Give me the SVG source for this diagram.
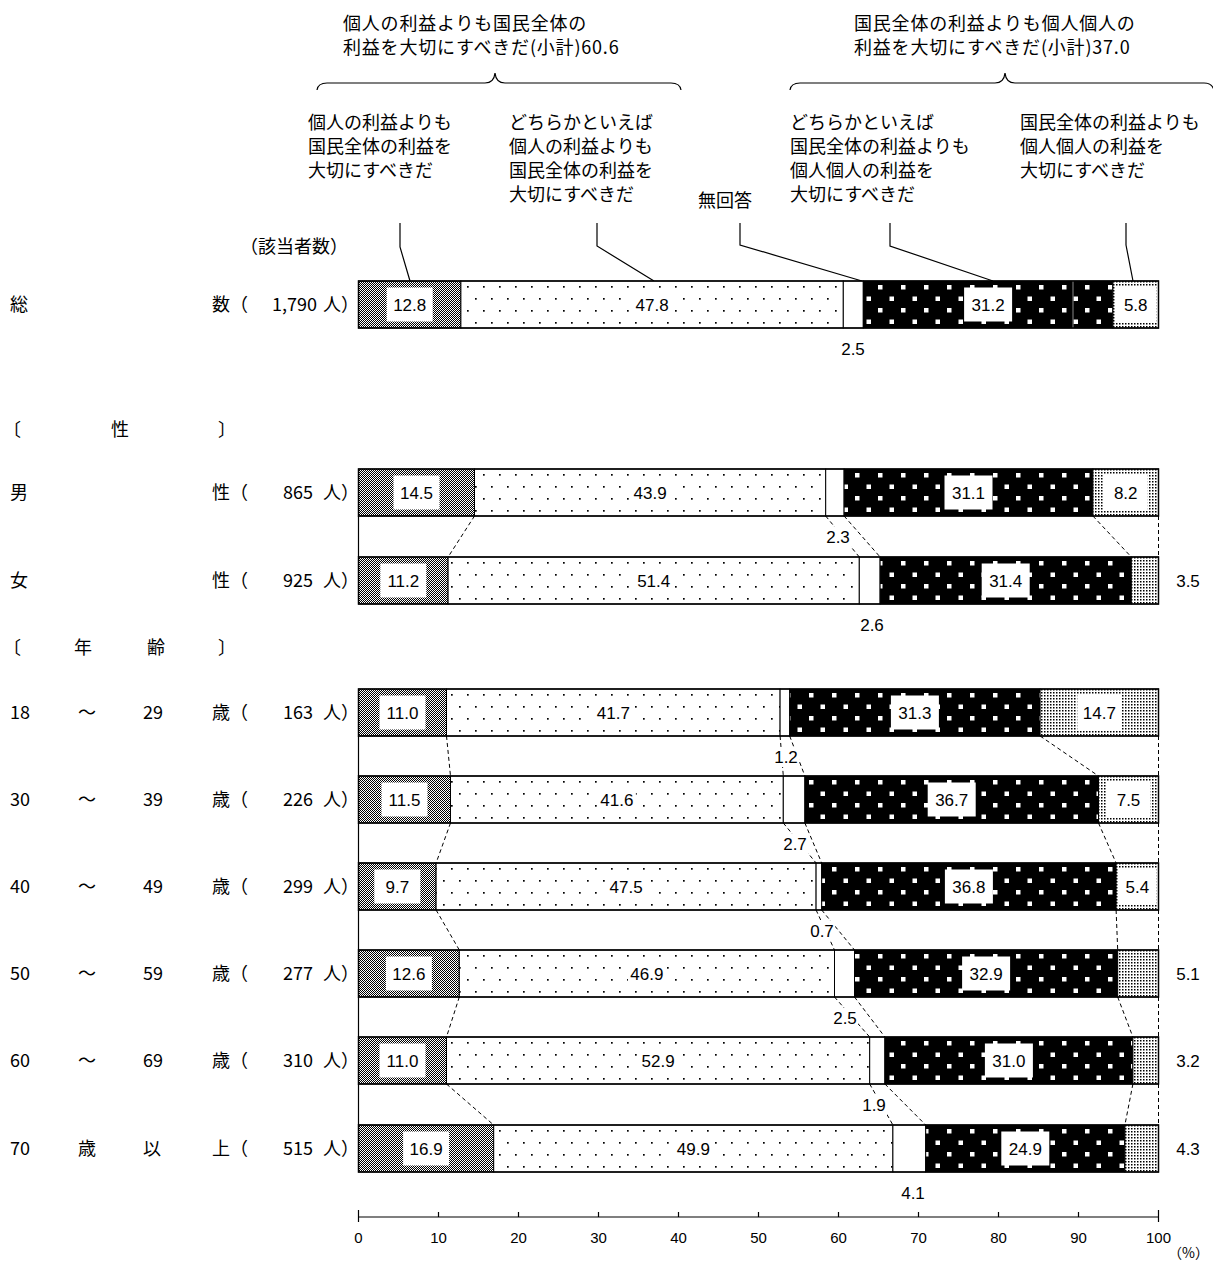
<svg xmlns="http://www.w3.org/2000/svg" width="1213" height="1261" viewBox="0 0 1213 1261">
<defs>
<style>
.j{font-family:"Noto Sans CJK JP","Noto Sans CJK SC",sans-serif;fill:#000}
.h{font-size:18px;letter-spacing:0.8px}
.s{font-size:18px}
.n{font-family:"Liberation Sans",Arial,sans-serif;font-size:17px;text-anchor:middle;fill:#000}
.ax{font-family:"Liberation Sans",Arial,sans-serif;font-size:15px;text-anchor:middle;fill:#000}
.seg{stroke:#000;stroke-width:1}
.s1{fill:url(#pChk)}
.s2{fill:url(#pDot)}
.s3{fill:#fff}
.s4{fill:url(#pSq)}
.s5{fill:url(#pFine)}
.out{fill:none;stroke:#000;stroke-width:1.5}
.box{fill:#fff}
.lead{fill:none;stroke:#000;stroke-width:1.2}
.dash{fill:none;stroke:#000;stroke-width:1;stroke-dasharray:4 3}
.solid{fill:none;stroke:#000;stroke-width:1.2}
</style>
<pattern id="pChk" width="2" height="2" patternUnits="userSpaceOnUse"><rect width="2" height="2" fill="#fff"/><rect width="1" height="1" fill="#000"/><rect x="1" y="1" width="1" height="1" fill="#000"/></pattern>
<pattern id="pDot" width="16" height="24" patternUnits="userSpaceOnUse"><rect width="16" height="24" fill="#fff"/><rect x="3" y="5" width="1.7" height="1.7" fill="#000"/><rect x="11" y="17" width="1.7" height="1.7" fill="#000"/></pattern>
<pattern id="pSq" width="23" height="23" patternUnits="userSpaceOnUse"><rect width="23" height="23" fill="#000"/><rect x="4" y="4" width="4.5" height="4.5" fill="#fff"/><rect x="15.5" y="15.5" width="4.5" height="4.5" fill="#fff"/></pattern>
<pattern id="pFine" width="3" height="3" patternUnits="userSpaceOnUse"><rect width="3" height="3" fill="#fff"/><rect width="1.5" height="1.5" fill="#000"/></pattern>
</defs>
<rect width="1213" height="1261" fill="#fff"/>

<g id="headers">
<text class="j h" x="343" y="30">個人の利益よりも国民全体の<tspan x="343" dy="24">利益を大切にすべきだ(小計)60.6</tspan></text>
<path class="lead" d="M317,90 Q318,83 327,83 L485,83 Q494,83 495,73 Q496,83 505,83 L671,83 Q680,83 681,90"/>
<text class="j h" x="854" y="30">国民全体の利益よりも個人個人の<tspan x="854" dy="24">利益を大切にすべきだ(小計)37.0</tspan></text>
<path class="lead" d="M790,90 Q791,83 800,83 L995,83 Q1004,83 1005,73 Q1006,83 1015,83 L1204,83 Q1212,83 1214,90"/>
</g>

<g id="legend-labels">
<text class="j s" x="308" y="129">個人の利益よりも<tspan x="308" dy="24">国民全体の利益を</tspan><tspan x="308" dy="24">大切にすべきだ</tspan></text>
<text class="j s" x="509" y="129">どちらかといえば<tspan x="509" dy="24">個人の利益よりも</tspan><tspan x="509" dy="24">国民全体の利益を</tspan><tspan x="509" dy="24">大切にすべきだ</tspan></text>
<text class="j s" x="698" y="207">無回答</text>
<text class="j s" x="790" y="129">どちらかといえば<tspan x="790" dy="24">国民全体の利益よりも</tspan><tspan x="790" dy="24">個人個人の利益を</tspan><tspan x="790" dy="24">大切にすべきだ</tspan></text>
<text class="j s" x="1020" y="129">国民全体の利益よりも<tspan x="1020" dy="24">個人個人の利益を</tspan><tspan x="1020" dy="24">大切にすべきだ</tspan></text>
<text class="j s" x="240" y="253">（該当者数）</text>
</g>

<g id="leaders">
<path class="lead" d="M400,223 V247 L410,281"/>
<path class="lead" d="M597,223 V246 L654,281"/>
<path class="lead" d="M740,223 V245 L862,281"/>
<path class="lead" d="M890,223 V246 L993,281"/>
<path class="lead" d="M1126,223 V245 L1133,281"/>
</g>

<g id="row-labels">
<text class="j s" x="10" y="311">総</text><text class="j s" x="212" y="311">数（</text><text class="j s" x="272" y="311">1,790</text><text class="j s" x="323" y="311">人）</text>
<text class="j s" x="3" y="436">〔</text><text class="j s" x="111" y="436">性</text><text class="j s" x="218" y="436">〕</text>
<text class="j s" x="10" y="499">男</text><text class="j s" x="212" y="499">性（</text><text class="j s" x="283" y="499">865</text><text class="j s" x="323" y="499">人）</text>
<text class="j s" x="10" y="587">女</text><text class="j s" x="212" y="587">性（</text><text class="j s" x="283" y="587">925</text><text class="j s" x="323" y="587">人）</text>
<text class="j s" x="3" y="654">〔</text><text class="j s" x="74" y="654">年</text><text class="j s" x="147" y="654">齢</text><text class="j s" x="218" y="654">〕</text>
<text class="j s" x="10" y="719">18</text><text class="j s" x="78" y="719">～</text><text class="j s" x="143" y="719">29</text><text class="j s" x="212" y="719">歳（</text><text class="j s" x="283" y="719">163</text><text class="j s" x="323" y="719">人）</text>
<text class="j s" x="10" y="806">30</text><text class="j s" x="78" y="806">～</text><text class="j s" x="143" y="806">39</text><text class="j s" x="212" y="806">歳（</text><text class="j s" x="283" y="806">226</text><text class="j s" x="323" y="806">人）</text>
<text class="j s" x="10" y="893">40</text><text class="j s" x="78" y="893">～</text><text class="j s" x="143" y="893">49</text><text class="j s" x="212" y="893">歳（</text><text class="j s" x="283" y="893">299</text><text class="j s" x="323" y="893">人）</text>
<text class="j s" x="10" y="980">50</text><text class="j s" x="78" y="980">～</text><text class="j s" x="143" y="980">59</text><text class="j s" x="212" y="980">歳（</text><text class="j s" x="283" y="980">277</text><text class="j s" x="323" y="980">人）</text>
<text class="j s" x="10" y="1067">60</text><text class="j s" x="78" y="1067">～</text><text class="j s" x="143" y="1067">69</text><text class="j s" x="212" y="1067">歳（</text><text class="j s" x="283" y="1067">310</text><text class="j s" x="323" y="1067">人）</text>
<text class="j s" x="10" y="1155">70</text><text class="j s" x="78" y="1155">歳</text><text class="j s" x="143" y="1155">以</text><text class="j s" x="212" y="1155">上（</text><text class="j s" x="283" y="1155">515</text><text class="j s" x="323" y="1155">人）</text>
</g>

<g id="connectors">
<path class="solid" d="M358.5,516 V557 M358.5,736 V776 M358.5,823 V863 M358.5,910 V950 M358.5,997 V1037 M358.5,1084 V1125"/>
<path class="dash" d="M474.5,516 L448.1,557 M825.7,516 L859.3,557 M844.1,516 L880.1,557 M1092.9,516 L1131.3,557 M1158.5,516 V557"/>
<path class="dash" d="M446.5,736 L450.5,776 M780.1,736 L783.3,776 M789.7,736 L804.9,776 M1040.1,736 L1098.5,776 M1158.5,736 V776"/>
<path class="dash" d="M450.5,823 L436.1,863 M783.3,823 L816.1,863 M804.9,823 L821.7,863 M1098.5,823 L1116.1,863 M1158.5,823 V863"/>
<path class="dash" d="M436.1,910 L459.3,950 M816.1,910 L834.5,950 M821.7,910 L854.5,950 M1116.1,910 L1117.7,950 M1158.5,910 V950"/>
<path class="dash" d="M459.3,997 L446.5,1037 M834.5,997 L869.7,1037 M854.5,997 L884.9,1037 M1117.7,997 L1132.9,1037 M1158.5,997 V1037"/>
<path class="dash" d="M446.5,1084 L493.7,1125 M869.7,1084 L892.9,1125 M884.9,1084 L925.7,1125 M1132.9,1084 L1124.9,1125 M1158.5,1084 V1125"/>
</g>

<g id="row-total" transform="translate(0,281)">
<rect class="seg s1" x="358.5" y="0" width="102.4" height="47"/>
<rect class="seg s2" x="460.9" y="0" width="382.4" height="47"/>
<rect class="seg s3" x="843.3" y="0" width="20" height="47"/>
<rect class="seg s4" x="863.3" y="0" width="249.6" height="47"/>
<rect class="seg s5" x="1112.9" y="0" width="45.6" height="47"/>
<line x1="1073" y1="0" x2="1073" y2="47" stroke="#888" stroke-width="1"/>
<rect class="out" x="358.5" y="0" width="800" height="47"/>
<rect class="box" x="386.7" y="6.5" width="46" height="34"/>
<rect class="box" x="633.1" y="12.5" width="38" height="22"/>
<rect class="box" x="964.1" y="6.5" width="48" height="34"/>
<rect class="box" x="1114.9" y="5.5" width="41.6" height="36"/>
<text class="n" x="409.7" y="29.5">12.8</text>
<text class="n" x="652.1" y="29.5">47.8</text>
<text class="n" x="988.1" y="29.5">31.2</text>
<text class="n" x="1135.7" y="29.5">5.8</text>
<rect class="box" x="840" y="58" width="26" height="20"/>
<text class="n" x="853" y="74">2.5</text>
</g>

<g id="row-male" transform="translate(0,469)">
<rect class="seg s1" x="358.5" y="0" width="116" height="47"/>
<rect class="seg s2" x="474.5" y="0" width="351.2" height="47"/>
<rect class="seg s3" x="825.7" y="0" width="18.4" height="47"/>
<rect class="seg s4" x="844.1" y="0" width="248.8" height="47"/>
<rect class="seg s5" x="1092.9" y="0" width="65.6" height="47"/>
<rect class="out" x="358.5" y="0" width="800" height="47"/>
<rect class="box" x="393.5" y="6.5" width="46" height="34"/>
<rect class="box" x="631.1" y="12.5" width="38" height="22"/>
<rect class="box" x="944.5" y="6.5" width="48" height="34"/>
<rect class="box" x="1103.7" y="5.5" width="44" height="36"/>
<text class="n" x="416.5" y="29.5">14.5</text>
<text class="n" x="650.1" y="29.5">43.9</text>
<text class="n" x="968.5" y="29.5">31.1</text>
<text class="n" x="1125.7" y="29.5">8.2</text>
<rect class="box" x="825" y="58" width="26" height="20"/>
<text class="n" x="838" y="74">2.3</text>
</g>

<g id="row-female" transform="translate(0,557)">
<rect class="seg s1" x="358.5" y="0" width="89.6" height="47"/>
<rect class="seg s2" x="448.1" y="0" width="411.2" height="47"/>
<rect class="seg s3" x="859.3" y="0" width="20.8" height="47"/>
<rect class="seg s4" x="880.1" y="0" width="251.2" height="47"/>
<rect class="seg s5" x="1131.3" y="0" width="27.2" height="47"/>
<rect class="out" x="358.5" y="0" width="800" height="47"/>
<rect class="box" x="380.3" y="6.5" width="46" height="34"/>
<rect class="box" x="634.7" y="12.5" width="38" height="22"/>
<rect class="box" x="981.7" y="6.5" width="48" height="34"/>
<text class="n" x="403.3" y="29.5">11.2</text>
<text class="n" x="653.7" y="29.5">51.4</text>
<text class="n" x="1005.7" y="29.5">31.4</text>
<text class="n" x="1188" y="29.5">3.5</text>
<rect class="box" x="859" y="58" width="26" height="20"/>
<text class="n" x="872" y="74">2.6</text>
</g>

<g id="row-18-29" transform="translate(0,689)">
<rect class="seg s1" x="358.5" y="0" width="88" height="47"/>
<rect class="seg s2" x="446.5" y="0" width="333.6" height="47"/>
<rect class="seg s3" x="780.1" y="0" width="9.6" height="47"/>
<rect class="seg s4" x="789.7" y="0" width="250.4" height="47"/>
<rect class="seg s5" x="1040.1" y="0" width="118.4" height="47"/>
<rect class="out" x="358.5" y="0" width="800" height="47"/>
<rect class="box" x="379.5" y="6.5" width="46" height="34"/>
<rect class="box" x="594.3" y="12.5" width="38" height="22"/>
<rect class="box" x="890.9" y="6.5" width="48" height="34"/>
<rect class="box" x="1077.3" y="5.5" width="44" height="36"/>
<text class="n" x="402.5" y="29.5">11.0</text>
<text class="n" x="613.3" y="29.5">41.7</text>
<text class="n" x="914.9" y="29.5">31.3</text>
<text class="n" x="1099.3" y="29.5">14.7</text>
<rect class="box" x="773" y="58" width="26" height="20"/>
<text class="n" x="786" y="74">1.2</text>
</g>

<g id="row-30-39" transform="translate(0,776)">
<rect class="seg s1" x="358.5" y="0" width="92" height="47"/>
<rect class="seg s2" x="450.5" y="0" width="332.8" height="47"/>
<rect class="seg s3" x="783.3" y="0" width="21.6" height="47"/>
<rect class="seg s4" x="804.9" y="0" width="293.6" height="47"/>
<rect class="seg s5" x="1098.5" y="0" width="60" height="47"/>
<rect class="out" x="358.5" y="0" width="800" height="47"/>
<rect class="box" x="381.5" y="6.5" width="46" height="34"/>
<rect class="box" x="597.9" y="12.5" width="38" height="22"/>
<rect class="box" x="927.7" y="6.5" width="48" height="34"/>
<rect class="box" x="1106.5" y="5.5" width="44" height="36"/>
<text class="n" x="404.5" y="29.5">11.5</text>
<text class="n" x="616.9" y="29.5">41.6</text>
<text class="n" x="951.7" y="29.5">36.7</text>
<text class="n" x="1128.5" y="29.5">7.5</text>
<rect class="box" x="782" y="58" width="26" height="20"/>
<text class="n" x="795" y="74">2.7</text>
</g>

<g id="row-40-49" transform="translate(0,863)">
<rect class="seg s1" x="358.5" y="0" width="77.6" height="47"/>
<rect class="seg s2" x="436.1" y="0" width="380" height="47"/>
<rect class="seg s3" x="816.1" y="0" width="5.6" height="47"/>
<rect class="seg s4" x="821.7" y="0" width="294.4" height="47"/>
<rect class="seg s5" x="1116.1" y="0" width="42.4" height="47"/>
<rect class="out" x="358.5" y="0" width="800" height="47"/>
<rect class="box" x="374.3" y="6.5" width="46" height="34"/>
<rect class="box" x="607.1" y="12.5" width="38" height="22"/>
<rect class="box" x="944.9" y="6.5" width="48" height="34"/>
<rect class="box" x="1118.1" y="5.5" width="38.4" height="36"/>
<text class="n" x="397.3" y="29.5">9.7</text>
<text class="n" x="626.1" y="29.5">47.5</text>
<text class="n" x="968.9" y="29.5">36.8</text>
<text class="n" x="1137.3" y="29.5">5.4</text>
<rect class="box" x="809" y="58" width="26" height="20"/>
<text class="n" x="822" y="74">0.7</text>
</g>

<g id="row-50-59" transform="translate(0,950)">
<rect class="seg s1" x="358.5" y="0" width="100.8" height="47"/>
<rect class="seg s2" x="459.3" y="0" width="375.2" height="47"/>
<rect class="seg s3" x="834.5" y="0" width="20" height="47"/>
<rect class="seg s4" x="854.5" y="0" width="263.2" height="47"/>
<rect class="seg s5" x="1117.7" y="0" width="40.8" height="47"/>
<rect class="out" x="358.5" y="0" width="800" height="47"/>
<rect class="box" x="385.9" y="6.5" width="46" height="34"/>
<rect class="box" x="627.9" y="12.5" width="38" height="22"/>
<rect class="box" x="962.1" y="6.5" width="48" height="34"/>
<text class="n" x="408.9" y="29.5">12.6</text>
<text class="n" x="646.9" y="29.5">46.9</text>
<text class="n" x="986.1" y="29.5">32.9</text>
<text class="n" x="1188" y="29.5">5.1</text>
<rect class="box" x="832" y="58" width="26" height="20"/>
<text class="n" x="845" y="74">2.5</text>
</g>

<g id="row-60-69" transform="translate(0,1037)">
<rect class="seg s1" x="358.5" y="0" width="88" height="47"/>
<rect class="seg s2" x="446.5" y="0" width="423.2" height="47"/>
<rect class="seg s3" x="869.7" y="0" width="15.2" height="47"/>
<rect class="seg s4" x="884.9" y="0" width="248" height="47"/>
<rect class="seg s5" x="1132.9" y="0" width="25.6" height="47"/>
<rect class="out" x="358.5" y="0" width="800" height="47"/>
<rect class="box" x="379.5" y="6.5" width="46" height="34"/>
<rect class="box" x="639.1" y="12.5" width="38" height="22"/>
<rect class="box" x="984.9" y="6.5" width="48" height="34"/>
<text class="n" x="402.5" y="29.5">11.0</text>
<text class="n" x="658.1" y="29.5">52.9</text>
<text class="n" x="1008.9" y="29.5">31.0</text>
<text class="n" x="1188" y="29.5">3.2</text>
<rect class="box" x="861" y="58" width="26" height="20"/>
<text class="n" x="874" y="74">1.9</text>
</g>

<g id="row-70plus" transform="translate(0,1125)">
<rect class="seg s1" x="358.5" y="0" width="135.2" height="47"/>
<rect class="seg s2" x="493.7" y="0" width="399.2" height="47"/>
<rect class="seg s3" x="892.9" y="0" width="32.8" height="47"/>
<rect class="seg s4" x="925.7" y="0" width="199.2" height="47"/>
<rect class="seg s5" x="1124.9" y="0" width="33.6" height="47"/>
<rect class="out" x="358.5" y="0" width="800" height="47"/>
<rect class="box" x="403.1" y="6.5" width="46" height="34"/>
<rect class="box" x="674.3" y="12.5" width="38" height="22"/>
<rect class="box" x="1001.3" y="6.5" width="48" height="34"/>
<text class="n" x="426.1" y="29.5">16.9</text>
<text class="n" x="693.3" y="29.5">49.9</text>
<text class="n" x="1025.3" y="29.5">24.9</text>
<text class="n" x="1188" y="29.5">4.3</text>
<rect class="box" x="900" y="58" width="26" height="20"/>
<text class="n" x="913" y="74">4.1</text>
</g>

<g id="axis">
<path class="solid" d="M358.5,1217 H1158.5 M358.5,1210 V1222 M1158.5,1210 V1222 M438.5,1212 V1217 M518.5,1212 V1217 M598.5,1212 V1217 M678.5,1212 V1217 M758.5,1212 V1217 M838.5,1212 V1217 M918.5,1212 V1217 M998.5,1212 V1217 M1078.5,1212 V1217"/>
<text class="ax" x="358.5" y="1243">0</text>
<text class="ax" x="438.5" y="1243">10</text>
<text class="ax" x="518.5" y="1243">20</text>
<text class="ax" x="598.5" y="1243">30</text>
<text class="ax" x="678.5" y="1243">40</text>
<text class="ax" x="758.5" y="1243">50</text>
<text class="ax" x="838.5" y="1243">60</text>
<text class="ax" x="918.5" y="1243">70</text>
<text class="ax" x="998.5" y="1243">80</text>
<text class="ax" x="1078.5" y="1243">90</text>
<text class="ax" x="1158.5" y="1243">100</text>
<text class="j" x="1168" y="1258" font-size="14">（%）</text>
</g>
</svg>
